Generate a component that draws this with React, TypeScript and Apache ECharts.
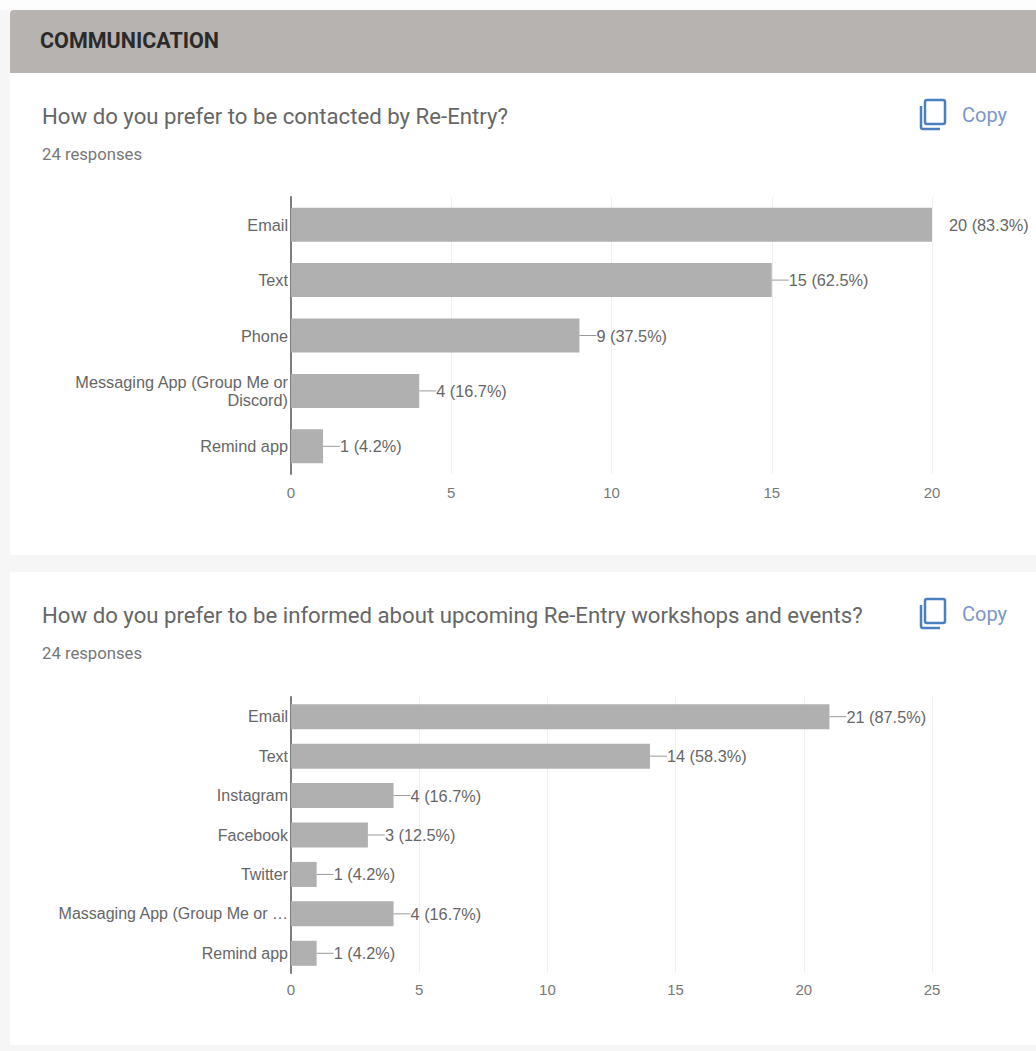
import React, { useEffect, useRef } from "react";
import * as echarts from "echarts";

const contactCategories = ["Email", "Text", "Phone", "Messaging App (Group Me or\nDiscord)", "Remind app"];
const contactValues = [20, 15, 9, 4, 1];
const contactPercents = ["83.3", "62.5", "37.5", "16.7", "4.2"];

const informCategories = ["Email", "Text", "Instagram", "Facebook", "Twitter", "Massaging App (Group Me or …", "Remind app"];
const informValues = [21, 14, 4, 3, 1, 4, 1];
const informPercents = ["87.5", "58.3", "16.7", "12.5", "4.2", "16.7", "4.2"];

const FONT = "'Liberation Sans', Arial, sans-serif";
const UI_FONT = "Roboto, Arial, sans-serif";
const INK = "#666666";
const BAR = "#b0b0b0";

echarts.graphic.registerShape(
  "copyIcon",
  echarts.graphic.extendPath(
    "M7 1 H23 Q25 1 25 3 V23 Q25 25 23 25 H7 Q5 25 5 23 V3 Q5 1 7 1 Z M1 7 V28 Q1 30 3 30 H20",
    {}
  )
);

function xAxisFor(gridIndex: number, max: number, margin: number) {
  return {
    type: "value" as const,
    gridIndex,
    min: 0,
    max,
    interval: 5,
    axisLine: { show: false },
    axisTick: { show: false },
    axisLabel: { color: "#777", fontFamily: FONT, fontSize: 15, margin },
    splitLine: { show: true, lineStyle: { color: "#f0f0f0", width: 1 } },
  };
}

function yAxisFor(gridIndex: number, categories: string[], fontSize: number) {
  return {
    type: "category" as const,
    gridIndex,
    inverse: true,
    data: categories,
    axisLine: { show: true, lineStyle: { color: "#7d7d7d", width: 2 } },
    axisTick: { show: false },
    axisLabel: { color: INK, fontFamily: FONT, fontSize, margin: 3, lineHeight: 18 },
  };
}

function barsFor(axisIndex: number, values: number[], percents: string[], barWidth: number, plainFirst: boolean) {
  return {
    type: "bar" as const,
    xAxisIndex: axisIndex,
    yAxisIndex: axisIndex,
    barWidth,
    itemStyle: { color: BAR },
    data: values.map((value, i) => ({
      value,
      labelLine: { show: !(plainFirst && i === 0) },
    })),
    label: {
      show: true,
      position: "right" as const,
      distance: 0,
      color: INK,
      fontFamily: FONT,
      fontSize: 16.3,
      formatter: (p: { dataIndex: number; value: number }) => `${p.value} (${percents[p.dataIndex]}%)`,
    },
    labelLayout: { dx: 17 },
    labelLine: { show: true, lineStyle: { color: "#9a9a9a", width: 1 } },
  };
}

function copyButton(y: number) {
  return [
    {
      type: "copyIcon",
      x: 920,
      y,
      style: { fill: "none", stroke: "#4a7fc0", lineWidth: 2.5 },
    },
    {
      type: "text",
      x: 962,
      y: y + 16,
      style: { text: "Copy", fill: "#7b97c8", font: `20px ${UI_FONT}`, verticalAlign: "middle" },
    },
  ];
}

function questionText(y: number, text: string) {
  return [
    { type: "text", x: 42, y, style: { text, fill: "#666666", font: `22.2px ${UI_FONT}`, verticalAlign: "middle" } },
    {
      type: "text",
      x: 42,
      y: y + 38,
      style: { text: "24 responses", fill: "#777777", font: `16.7px ${UI_FONT}`, verticalAlign: "middle" },
    },
  ];
}

export default function App() {
  const ref = useRef<HTMLDivElement>(null);

  useEffect(() => {
    const chart = echarts.init(ref.current!, null, { renderer: "svg" });
    chart.setOption({
      animation: false,
      backgroundColor: "#f6f6f6",
      grid: [
        { left: 291, top: 197, width: 641, height: 277 },
        { left: 291, top: 697, width: 641, height: 276 },
      ],
      xAxis: [xAxisFor(0, 20, 11), xAxisFor(1, 25, 9)],
      yAxis: [yAxisFor(0, contactCategories, 16.3), yAxisFor(1, informCategories, 16)],
      series: [
        barsFor(0, contactValues, contactPercents, 34, true),
        barsFor(1, informValues, informPercents, 25, false),
      ],
      graphic: [
        {
          type: "group",
          silent: true,
          z: -10,
          children: [
            { type: "rect", shape: { x: 0, y: 0, width: 1036, height: 10 }, style: { fill: "#fdfdfd" } },
            { type: "rect", shape: { x: 10, y: 10, width: 1026, height: 64, r: [4, 0, 0, 0] }, style: { fill: "#b6b3b1" } },
            { type: "rect", shape: { x: 10, y: 73, width: 1026, height: 482 }, style: { fill: "#ffffff" } },
            { type: "rect", shape: { x: 10, y: 572, width: 1026, height: 473 }, style: { fill: "#ffffff" } },
          ],
        },
        {
          type: "group",
          silent: true,
          children: [
            {
              type: "text",
              x: 40,
              y: 40,
              style: { text: "COMMUNICATION", fill: "#2a2a2a", font: `bold 21.5px ${UI_FONT}`, verticalAlign: "middle" },
            },
            ...questionText(116, "How do you prefer to be contacted by Re-Entry?"),
            ...questionText(615, "How do you prefer to be informed about upcoming Re-Entry workshops and events?"),
            ...copyButton(99),
            ...copyButton(598),
          ],
        },
      ],
    });
    return () => chart.dispose();
  }, []);

  return <div ref={ref} style={{ position: "absolute", left: 0, top: 0, width: 1036, height: 1051 }} />;
}
